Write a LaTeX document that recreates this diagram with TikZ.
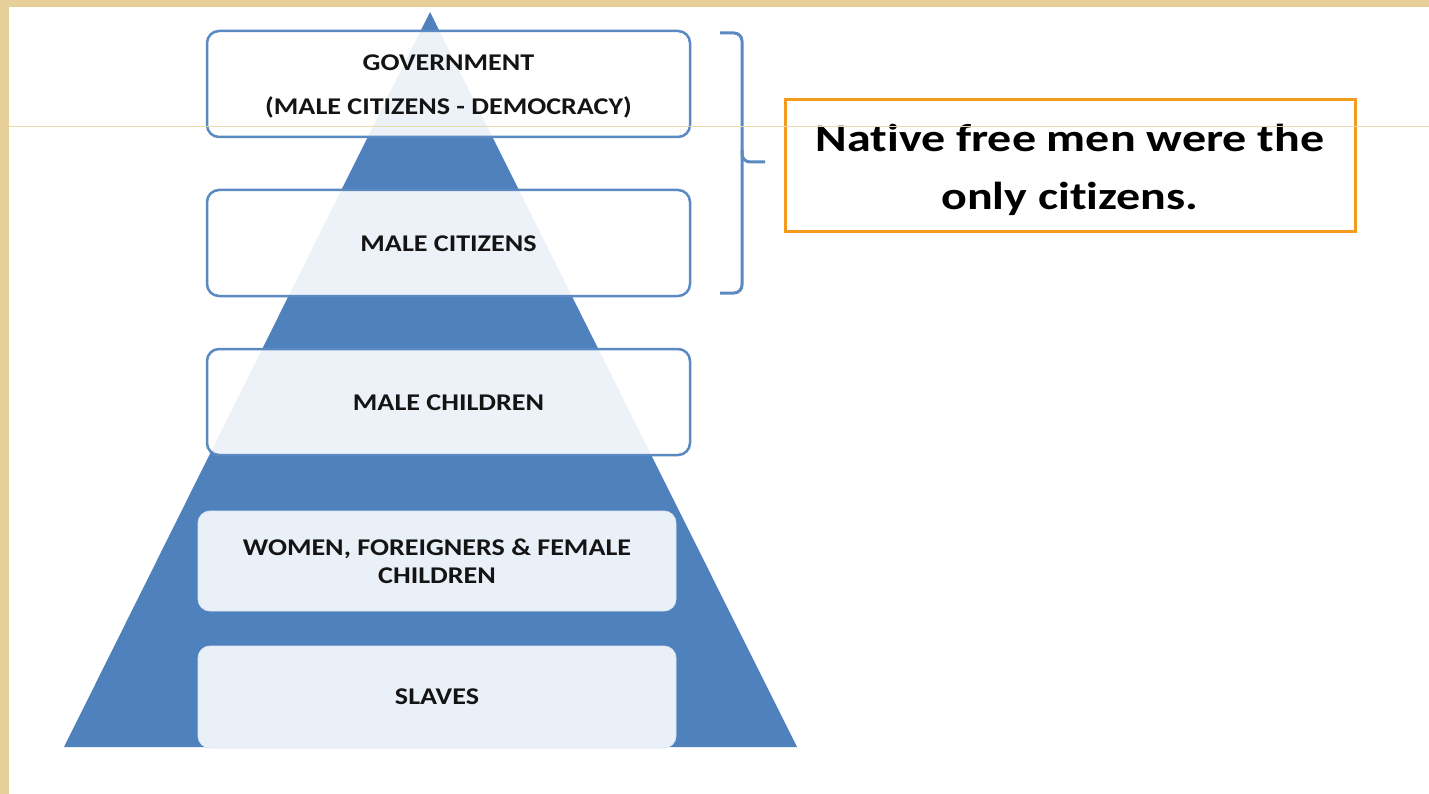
\documentclass[tikz,border=0pt]{standalone}
\usepackage{fontspec}
\setmainfont{Carlito}
\newfontfamily\boxfont[FakeStretch=1.17,Ligatures=NoCommon]{Carlito}
\newfontfamily\notefont[FakeStretch=1.23,Ligatures=NoCommon]{Carlito}
\definecolor{parch}{HTML}{E6CF98}
\definecolor{pyr}{HTML}{4F81BD}
\definecolor{boxline}{HTML}{5B89C2}
\definecolor{lightbox}{HTML}{EAF0F8}
\definecolor{orng}{HTML}{F29B1D}
\definecolor{tanline}{HTML}{EAD8AE}
\begin{document}
\begin{tikzpicture}[x=1pt,y=-1pt,
  topbox/.style={draw=boxline,line width=2.5pt,fill=white,fill opacity=0.9,text opacity=1,
    rounded corners=12pt,minimum width=483pt,minimum height=106pt,inner sep=0pt},
  lowbox/.style={draw=lightbox!90!pyr,line width=0.8pt,fill=lightbox,
    rounded corners=12pt,minimum width=478pt,inner sep=0pt},
  boxtext/.style={font=\boxfont\bfseries\fontsize{24}{44}\selectfont,align=center,text=black!92,inner sep=0pt},
  lowtext/.style={font=\boxfont\bfseries\fontsize{24}{28}\selectfont,align=center,text=black!92,inner sep=0pt},
  notebox/.style={draw=orng,line width=3pt,fill=white,minimum width=570pt,minimum height=132pt,inner sep=0pt},
  notetext/.style={font=\notefont\bfseries\fontsize{39}{58}\selectfont,align=center,text=black,inner sep=0pt},
  brace/.style={draw=boxline,line width=3pt}]
\useasboundingbox (0,0) rectangle (1429,794);
\fill[parch] (0,0) rectangle (1429,794);
\fill[white] (9,7) rectangle (1429,794);
% pyramid
\fill[pyr] (430,12) -- (797,747) -- (64,747) -- cycle;
% boxes
\node[topbox] (gov) at (448.5,84) {};
\node[boxtext] (govt) at ([yshift=-2.5pt]gov.center) {GOVERNMENT\\(MALE CITIZENS - DEMOCRACY)};
\node[topbox] (mc) at (448.5,243) {};
\node[boxtext] (mct) at ([yshift=-1pt]mc.center) {MALE CITIZENS};
\node[topbox] (mch) at (448.5,402) {};
\node[boxtext] (mcht) at ([yshift=-1pt]mch.center) {MALE CHILDREN};
\node[lowbox,minimum height=100pt] (wom) at (437,561) {};
\node[lowtext] (womt) at (wom.center) {WOMEN, FOREIGNERS \& FEMALE\\CHILDREN};
\node[lowbox,minimum height=102pt] (sla) at (437,697) {};
\node[lowtext] (slat) at (sla.center) {SLAVES};
% bracket
\coordinate (bt) at (720,33);
\coordinate (bb) at (720,293);
\coordinate (bm) at (765,162);
\draw[brace,rounded corners=8pt] (bt) -- (742,33) -- (742,162) -- (bm);
\draw[brace,rounded corners=8pt] (742,150) -- (742,293) -- (bb);
% note
\node[notebox] (note) at (1070,166) {};
\node[notetext] (notet) at ([yshift=-4pt]note.center) {Native free men were the\\only citizens.};
% artifact line
\draw[tanline,line width=1pt] (9,127) -- (1429,127);
\end{tikzpicture}
\end{document}
